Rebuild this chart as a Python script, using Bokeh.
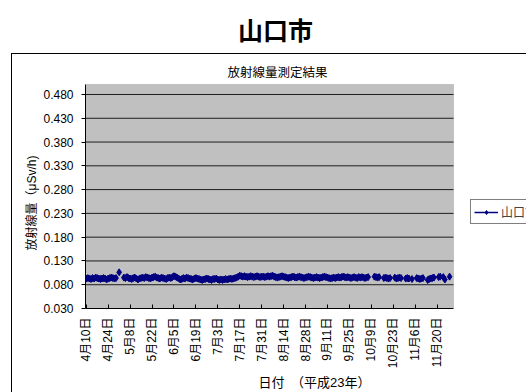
import math
from bokeh.plotting import figure
from bokeh.models import (FixedTicker, Label, BoxAnnotation, Legend, LegendItem,
                          NumeralTickFormatter, InlineStyleSheet, Title)
from bokeh.embed import file_html
from bokeh.resources import INLINE

nan = float("nan")

page_title = "山口市"
chart_title = "放射線量測定結果"
y_title = "放射線量（μSv/h)"
x_title = "日付　（平成23年）"
series_name = "山口市"

# daily readings (μSv/h), 4月10日 .. 11月30日, nan = no measurement
apr = [0.093, 0.094, 0.093, 0.092, 0.094, 0.093, 0.095, 0.094, 0.093, 0.092,
       0.093, 0.094, 0.093, 0.091, 0.093, 0.094, 0.095, 0.094, 0.093, 0.094, nan]
may = [0.106, nan, nan, 0.095, 0.094, 0.096, 0.094, 0.093, 0.092, 0.094,
       0.095, 0.093, 0.091, 0.093, 0.094, 0.095, 0.094, 0.096, 0.095, 0.094,
       0.093, 0.095, 0.096, 0.097, 0.095, 0.094, 0.093, 0.095, 0.094, 0.093, 0.092]
jun = [0.094, 0.095, 0.094, 0.096, 0.098, 0.097, 0.095, 0.093, 0.091, 0.092,
       0.094, 0.093, 0.095, 0.094, 0.093, 0.092, 0.091, 0.093, 0.094, 0.093,
       0.092, 0.091, 0.090, 0.091, 0.092, 0.093, 0.092, 0.091, 0.090, 0.092]
jul = [0.092, 0.093, 0.091, 0.090, 0.091, 0.090, 0.091, 0.092, 0.091, 0.092,
       0.093, 0.092, 0.093, 0.094, 0.095, 0.097, 0.099, 0.098, 0.097, 0.098,
       0.097, 0.096, 0.097, 0.098, 0.097, 0.096, 0.097, 0.098, 0.097, 0.096, 0.097]
aug = [0.097, 0.096, 0.097, 0.098, 0.097, 0.098, 0.099, 0.097, 0.096, 0.095,
       0.096, 0.097, 0.098, 0.097, 0.096, 0.095, 0.094, 0.095, 0.096, 0.097,
       0.096, 0.095, 0.096, 0.097, 0.096, 0.095, 0.094, 0.095, 0.096, 0.097, 0.096]
sep = [0.095, 0.094, 0.095, 0.096, 0.095, 0.094, 0.095, 0.096, 0.097, 0.096,
       0.095, 0.094, 0.093, 0.094, 0.095, 0.094, 0.095, 0.096, 0.095, 0.096,
       0.097, 0.096, 0.095, 0.096, 0.095, 0.094, 0.095, 0.096, 0.095, 0.094]
oct_ = [0.096, 0.095, 0.096, 0.095, 0.094, 0.095, 0.096, nan, nan, nan,
        0.097, 0.096, 0.095, 0.096, nan, nan, 0.094, 0.095, 0.094, 0.093,
        0.094, nan, nan, 0.095, 0.093, 0.094, 0.095, 0.094, nan, nan, 0.093]
nov = [0.094, 0.093, nan, 0.092, nan, nan, 0.094, 0.093, 0.092, 0.093,
       0.094, nan, nan, 0.090, 0.092, 0.093, 0.094, 0.095, nan, nan,
       0.096, 0.097, nan, 0.096, 0.091, nan, nan, 0.097, nan, nan]

tick_labels = ["4月10日", "4月24日", "5月8日", "5月22日", "6月5日", "6月19日",
               "7月3日", "7月17日", "7月31日", "8月14日", "8月28日", "9月11日",
               "9月25日", "10月9日", "10月23日", "11月6日", "11月20日"]
y_ticks = [0.030, 0.080, 0.130, 0.180, 0.230, 0.280, 0.330, 0.380, 0.430, 0.480]
y_min, y_max = 0.03, 0.501

values = apr + may + jun + jul + aug + sep + oct_ + nov
days = list(range(len(values)))
label_every = 14
x_ticks = [i * label_every for i in range(len(tick_labels))]
x_lo, x_hi = -0.5, len(values) - 0.5

# ---- layout geometry (pixels) ----
W, H = 526, 392
LEFT, BOTTOM = 85, 84
PA_RIGHT, PA_TOP = 453, 84          # plot-area right / top in canvas px
frame_w, frame_h = W - LEFT, H - BOTTOM
pa_w, pa_h = PA_RIGHT - LEFT, frame_h - PA_TOP
x_end = x_lo + (x_hi - x_lo) * frame_w / pa_w
y_end = y_min + (y_max - y_min) * frame_h / pa_h

FONT = "Liberation Sans, Noto Sans CJK JP"
NAVY = "#000080"

p = figure(width=W, height=H, output_backend="svg", toolbar_location=None,
           x_range=(x_lo, x_end), y_range=(y_min, y_end),
           min_border_left=LEFT, min_border_right=0, min_border_top=0,
           min_border_bottom=BOTTOM)
p.background_fill_color = "white"
p.border_fill_color = "white"
p.outline_line_color = None

# outer chart-area box (frame of the embedded chart)
p.stylesheets = [InlineStyleSheet(css="""
:host { position: relative; overflow: hidden; }
:host::after { content: ""; position: absolute; left: 11px; top: 53px;
  width: 700px; height: 600px; border: 1px solid #000; pointer-events: none; }
""")]

# gray plot area
p.add_layout(BoxAnnotation(left=x_lo, right=x_hi, bottom=y_min, top=y_max,
                           fill_color="#C0C0C0", fill_alpha=1,
                           line_color="#808080", line_width=1, level="underlay"))

# horizontal gridlines within plot area
grid_y = y_ticks[1:]
p.segment(x0=[x_lo] * len(grid_y), x1=[x_hi] * len(grid_y), y0=grid_y, y1=grid_y,
          line_color="black", line_width=1, line_alpha=0.85)

# axes
p.xaxis.bounds = (x_lo, x_hi)
p.xaxis.ticker = FixedTicker(ticks=x_ticks)
p.xaxis.major_label_overrides = {t: l for t, l in zip(x_ticks, tick_labels)}
p.xaxis.major_label_orientation = math.pi / 2
p.xaxis.major_tick_in = 4
p.xaxis.major_tick_out = 0
p.xaxis.minor_tick_line_color = None
p.xaxis.major_label_standoff = 9
p.xaxis.major_label_text_font = FONT
p.xaxis.major_label_text_font_size = "12px"
p.xaxis.major_label_text_color = "black"
p.xaxis.axis_line_color = "black"

p.yaxis.bounds = (y_min, y_max)
p.yaxis.ticker = FixedTicker(ticks=y_ticks)
p.yaxis.formatter = NumeralTickFormatter(format="0.000")
p.yaxis.major_tick_in = 0
p.yaxis.major_tick_out = 4
p.yaxis.minor_tick_line_color = None
p.yaxis.major_label_standoff = 8
p.yaxis.major_label_text_font = FONT
p.yaxis.major_label_text_font_size = "12px"
p.yaxis.major_label_text_color = "black"
p.yaxis.axis_line_color = "black"

p.xgrid.grid_line_color = None
p.ygrid.grid_line_color = None

# axis titles
p.add_layout(Title(text=x_title, align="left", offset=173, standoff=2,
                   text_font=FONT, text_font_size="13px",
                   text_font_style="normal", text_color="black"), "below")
p.add_layout(Title(text=y_title, align="left", offset=58, standoff=4,
                   text_font=FONT, text_font_size="12px",
                   text_font_style="normal", text_color="black"), "left")

# series
ln = p.line(days, values, line_color=NAVY, line_width=1.5)
sc = p.scatter(days, values, marker="diamond", size=7, fill_color=NAVY,
               line_color=NAVY)

# titles (screen units from frame bottom-left)
p.add_layout(Label(x=190, y=frame_h - 28, x_units="screen", y_units="screen",
                   text=page_title, text_align="center", text_baseline="middle",
                   text_font="Noto Sans CJK JP", text_font_style="bold",
                   text_font_size="25px", text_color="black"))
p.add_layout(Label(x=192, y=frame_h - 72, x_units="screen", y_units="screen",
                   text=chart_title, text_align="center", text_baseline="middle",
                   text_font=FONT, text_font_size="12.5px", text_color="black"))

legend = Legend(items=[LegendItem(label=series_name, renderers=[ln, sc])],
                location=(385, frame_h - 224))
legend.border_line_color = "black"
legend.border_line_width = 1
legend.background_fill_color = "white"
legend.background_fill_alpha = 1
legend.label_text_font = FONT
legend.label_text_font_size = "12px"
legend.glyph_width = 24
legend.glyph_height = 10
legend.label_height = 12
legend.padding = 3
legend.spacing = 0
legend.margin = 0
legend.label_standoff = 3
p.add_layout(legend)

open("out.html", "w").write(file_html(p, INLINE))
